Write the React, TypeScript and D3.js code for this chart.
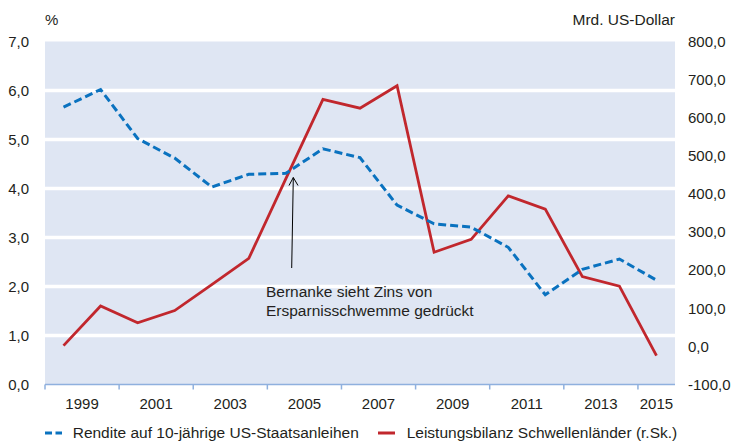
import React from 'react';
import * as d3 from 'd3';

const years = [1999, 2000, 2001, 2002, 2003, 2004, 2005, 2006, 2007, 2008, 2009, 2010, 2011, 2012, 2013, 2014, 2015];
const rendite = [5.66, 6.02, 5.02, 4.62, 4.03, 4.29, 4.31, 4.81, 4.63, 3.66, 3.28, 3.21, 2.8, 1.83, 2.35, 2.56, 2.13];
const leistungsbilanz = [2, 106, 62, 94, 162, 231, 440, 648, 625, 684, 247, 281, 395, 360, 183, 158, -24];
const leftTicks = [0, 1, 2, 3, 4, 5, 6, 7];
const rightTicks = [-100, 0, 100, 200, 300, 400, 500, 600, 700, 800];
const labelYears = [1999, 2001, 2003, 2005, 2007, 2009, 2011, 2013, 2015];

const W = 733;
const H = 442;
const marginLeft = 45;
const marginRight = 675;
const marginTop = 41.5;
const marginBottom = 384.5;
const font = "'Liberation Sans', Arial, sans-serif";
const textColor = '#231f20';
const blue = '#0a72bf';
const red = '#c1272d';

const fmt = (v: number) => v.toFixed(1).replace('.', ',');

export default function App() {
  const x = d3.scaleBand<number>().domain(years).range([marginLeft, marginRight]).paddingInner(0).paddingOuter(0);
  const yLeft = d3.scaleLinear().domain([0, 7]).range([marginBottom, marginTop]);
  const yRight = d3.scaleLinear().domain([-100, 800]).range([marginBottom, marginTop]);
  const bw = x.bandwidth();
  const cx = (yr: number) => (x(yr) as number) + bw / 2;

  const blueLine = d3.line<number>()
    .x((_, i) => cx(years[i]))
    .y(d => yLeft(d));
  const redLine = d3.line<number>()
    .x((_, i) => cx(years[i]))
    .y(d => yRight(d));

  // label centred in its span of two years (last one only has one)
  const labelX = (yr: number) => {
    const start = x(yr) as number;
    const end = yr === years[years.length - 1] ? start + bw : start + 2 * bw;
    return (start + end) / 2;
  };

  return (
    <svg width={W} height={H} style={{ position: 'absolute', left: 0, top: 0, display: 'block' }}
      fontFamily={font}>
      <rect x={0} y={0} width={W} height={H} fill="#fff" />
      <rect x={marginLeft} y={marginTop} width={marginRight - marginLeft} height={marginBottom - marginTop} fill="#dfe6f3" />
      {leftTicks.filter(t => t > 0 && t < 7).map(t => (
        <line key={t} x1={marginLeft} x2={marginRight} y1={yLeft(t)} y2={yLeft(t)} stroke="#fff" strokeWidth={3.5} />
      ))}

      {/* x axis */}
      <line x1={marginLeft} x2={marginRight} y1={marginBottom} y2={marginBottom} stroke="#8fb0de" strokeWidth={1.5} />
      {labelYears.map(yr => (
        <line key={yr} x1={x(yr) as number} x2={x(yr) as number} y1={marginBottom} y2={marginBottom + 5} stroke="#8fb0de" strokeWidth={1.5} />
      ))}
      {labelYears.map(yr => (
        <text key={yr} x={labelX(yr)} y={404} dy="0.35em" textAnchor="middle" fontSize={15} fill={textColor}>{yr}</text>
      ))}

      {/* y axes */}
      {leftTicks.map(t => (
        <text key={t} x={29} y={yLeft(t)} dy="0.35em" textAnchor="end" fontSize={15} fill={textColor}>{fmt(t)}</text>
      ))}
      {rightTicks.map(t => (
        <text key={t} x={688} y={yRight(t)} dy="0.35em" textAnchor="start" fontSize={15} fill={textColor}>{fmt(t)}</text>
      ))}
      <text x={45} y={20} dy="0.35em" fontSize={15} fill={textColor}>%</text>
      <text x={675} y={20} dy="0.35em" textAnchor="end" fontSize={15.5} fill={textColor}>Mrd. US-Dollar</text>

      {/* series */}
      <path d={redLine(leistungsbilanz) || ''} fill="none" stroke={red} strokeWidth={2.8} strokeLinejoin="miter" />
      <path d={blueLine(rendite) || ''} fill="none" stroke={blue} strokeWidth={3} strokeDasharray="8,4" />

      {/* annotation */}
      <line x1={291.7} y1={268} x2={293.3} y2={177.5} stroke="#000" strokeWidth={1} />
      <polyline points="289,185.5 293.3,177.5 298,185.5" fill="none" stroke="#000" strokeWidth={1} />
      <text x={266} y={297.3} fontSize={15.5} fill={textColor}>Bernanke sieht Zins von</text>
      <text x={266} y={315.7} fontSize={15.5} fill={textColor}>Ersparnisschwemme gedrückt</text>

      {/* legend */}
      <line x1={45} x2={62} y1={433} y2={433} stroke={blue} strokeWidth={3} strokeDasharray="7,3.5" />
      <text x={72.7} y={433} dy="0.35em" fontSize={15.5} fill={textColor}>Rendite auf 10-jährige US-Staatsanleihen</text>
      <line x1={378} x2={395} y1={433} y2={433} stroke={red} strokeWidth={3} />
      <text x={406.7} y={433} dy="0.35em" fontSize={15.5} fill={textColor}>Leistungsbilanz Schwellenländer (r.Sk.)</text>
    </svg>
  );
}
